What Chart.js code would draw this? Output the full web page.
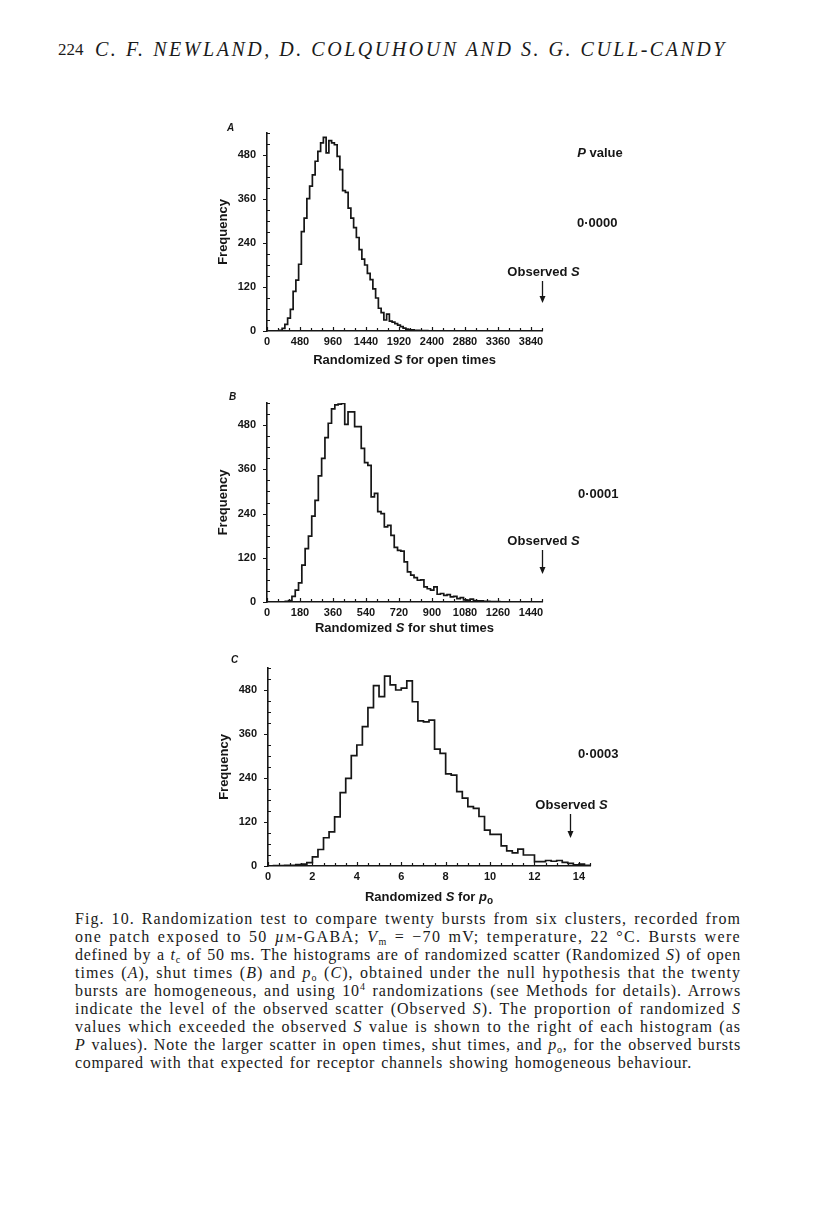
<!DOCTYPE html>
<html>
<head>
<meta charset="utf-8">
<title>Fig. 10 randomization histograms</title>
<script src="https://cdn.jsdelivr.net/npm/chart.js@4.4.0/dist/chart.umd.min.js"></script>
<style>
  body { margin: 0; width: 816px; height: 1206px; background: #fff; position: relative; overflow: hidden;
         font-family: "Liberation Serif", serif; color: #1a1a1a; }
  canvas { position: absolute; }
  .txt { position: absolute; white-space: nowrap; line-height: 18px; }
  .cap { font-size: 16px; }
  sub { font-size: 10px; vertical-align: -3px; line-height: 0; }
  sup { font-size: 10px; vertical-align: 6px; line-height: 0; }
  .sc { font-size: 11.5px; }
</style>
</head>
<body>

<div class="txt" style="left:58px;top:41px;font-size:17px">224</div>
<span class="txt fit" data-w="632" data-share="1" style="left:95px;top:40px;font-size:20px;font-style:italic">C. F. NEWLAND, D. COLQUHOUN AND S. G. CULL-CANDY</span>

<canvas id="panelA" width="440" height="262" style="left:200px;top:112px"></canvas>
<canvas id="panelB" width="440" height="263" style="left:200px;top:382px"></canvas>
<canvas id="panelC" width="450" height="261" style="left:200px;top:648px"></canvas>

<span class="txt cap fit" data-w="666" data-share="0.8" style="left:75px;top:910px">Fig. 10. Randomization test to compare twenty bursts from six clusters, recorded from</span>
<span class="txt cap fit" data-w="666" data-share="0.8" style="left:75px;top:928px">one patch exposed to 50 <i>µ</i><span class="sc">M</span>-GABA; <i>V</i><sub>m</sub> = −70 mV; temperature, 22 °C. Bursts were</span>
<span class="txt cap fit" data-w="666" data-share="0.8" style="left:75px;top:946px">defined by a <i>t</i><sub>c</sub> of 50 ms. The histograms are of randomized scatter (Randomized <i>S</i>) of open</span>
<span class="txt cap fit" data-w="666" data-share="0.8" style="left:75px;top:964px">times (<i>A</i>), shut times (<i>B</i>) and <i>p</i><sub>o</sub> (<i>C</i>), obtained under the null hypothesis that the twenty</span>
<span class="txt cap fit" data-w="666" data-share="0.8" style="left:75px;top:982px">bursts are homogeneous, and using 10<sup>4</sup> randomizations (see Methods for details). Arrows</span>
<span class="txt cap fit" data-w="666" data-share="0.8" style="left:75px;top:1000px">indicate the level of the observed scatter (Observed <i>S</i>). The proportion of randomized <i>S</i></span>
<span class="txt cap fit" data-w="666" data-share="0.8" style="left:75px;top:1018px">values which exceeded the observed <i>S</i> value is shown to the right of each histogram (as</span>
<span class="txt cap fit" data-w="666" data-share="0.8" style="left:75px;top:1036px"><i>P</i> values). Note the larger scatter in open times, shut times, and <i>p</i><sub>o</sub>, for the observed bursts</span>
<span class="txt cap fit" data-w="617" data-share="0.8" style="left:75px;top:1054px">compared with that expected for receptor channels showing homogeneous behaviour.</span>

<script>
// ---------------- data ----------------
// A: randomized S for open times (bins of 40)
var openBinStart = 180;
var openBinWidth = 40;
var openCounts = [2, 7, 18, 35, 59, 108, 139, 182, 271, 308, 361, 395, 426, 463, 490, 513, 528, 486, 519, 513,
  508, 476, 440, 383, 378, 335, 308, 282, 255, 222, 196, 180, 157, 140, 115, 90, 62, 50, 30, 46,
  27, 24, 20, 16, 12, 8, 5, 3, 3, 2, 2, 1, 1, 1];

// B: randomized S for shut times (bins of 18)
var shutBinStart = 100;
var shutBinWidth = 18;
var shutCounts = [2, 4, 15, 32, 52, 100, 145, 179, 233, 276, 342, 390, 446, 485, 524, 535, 537, 539, 482, 516,
  516, 476, 476, 417, 378, 371, 285, 295, 245, 240, 204, 208, 181, 148, 140, 138, 109, 82, 73, 66,
  59, 60, 41, 36, 32, 41, 21, 23, 18, 20, 14, 15, 9, 12, 6, 5, 8, 4, 3, 3, 2, 2, 1, 1, 1];

// C: randomized S for p_o (bins of 0.25)
var poBinStart = 0;
var poBinWidth = 0.25;
var poCounts = [0, 1, 1, 2, 2, 4, 5, 9, 25, 45, 77, 93, 134, 200, 239, 301, 330, 380, 432, 492,
  462, 518, 494, 480, 485, 505, 448, 396, 393, 398, 319, 307, 251, 248, 203, 185, 162, 157, 135, 98,
  86, 86, 55, 41, 36, 46, 30, 30, 12, 12, 15, 13, 15, 10, 7, 3, 5, 2];

var xMaxes = [4000, 1500, 14.5];
var xSteps = [160, 60, 0.5];
var xLabelEvery = [480, 180, 2];
var yMax = 540;
var yStep = 30;
var yLabelEvery = 120;
var observedS = [4000, 1500, 13.6];
var pValues = ["0\u00b70000", "0\u00b70001", "0\u00b70003"];
var panelLetters = ["A", "B", "C"];

var INK = "#161616";
var SANS = '"Liberation Sans", Arial, sans-serif';

// histogram outline: one point per bin right edge, drawn with stepped:'after'
function histPoints(start, width, counts) {
  var pts = [{ x: start, y: 0 }];
  for (var i = 0; i < counts.length; i++) {
    pts.push({ x: start + (i + 1) * width, y: counts[i] });
  }
  pts.push({ x: start + counts.length * width, y: 0 });
  return pts;
}

function isMultiple(v, step) {
  var q = v / step;
  return Math.abs(q - Math.round(q)) < 1e-6;
}

// layout / annotation settings for each canvas
var panels = {
  panelA: { idx: 0, padLeft: 16, padTop: 21, padRight: 98, xHeight: 43, titleDrop: 33,
    letterPos: [27, 19], pHead: [377, 45], pPos: [377, 115], obsUp: 55,
    title: [["Randomized ", ""], ["S", "italic "], [" for open times", ""]] },
  panelB: { idx: 1, padLeft: 16, padTop: 21, padRight: 98, xHeight: 43, titleDrop: 30,
    letterPos: [29, 18], pHead: null, pPos: [378, 116], obsUp: 57,
    title: [["Randomized ", ""], ["S", "italic "], [" for shut times", ""]] },
  panelC: { idx: 2, padLeft: 17, padTop: 20, padRight: 60, xHeight: 43, titleDrop: 35,
    letterPos: [31, 15], pHead: null, pPos: [378, 110], obsUp: 57,
    title: [["Randomized ", ""], ["S", "italic "], [" for ", ""], ["p", "italic "], ["o", "sub"]] }
};

function drawParts(ctx, parts, cx, y, size) {
  var total = 0, i, f;
  var fonts = [];
  for (i = 0; i < parts.length; i++) {
    f = parts[i][1] === "sub" ? "bold " + (size - 3) + "px " + SANS : parts[i][1] + "bold " + size + "px " + SANS;
    fonts.push(f);
    ctx.font = f;
    total += ctx.measureText(parts[i][0]).width;
  }
  var x = cx - total / 2;
  ctx.textAlign = "left";
  ctx.textBaseline = "alphabetic";
  for (i = 0; i < parts.length; i++) {
    ctx.font = fonts[i];
    ctx.fillText(parts[i][0], x, parts[i][1] === "sub" ? y + 3 : y);
    x += ctx.measureText(parts[i][0]).width;
  }
}

var marksPlugin = {
  id: "marks",
  afterDraw: function (chart) {
    var cfg = panels[chart.canvas.id];
    var ctx = chart.ctx;
    var area = chart.chartArea;
    var xs = chart.scales.x;
    var ys = chart.scales.y;
    ctx.save();
    ctx.strokeStyle = INK;
    ctx.fillStyle = INK;
    ctx.lineWidth = 1.2;

    // tick marks: x inward, y labelled outward / minor inward
    ctx.beginPath();
    xs.ticks.forEach(function (t) {
      var px = Math.round(xs.getPixelForValue(t.value)) + 0.5;
      ctx.moveTo(px, area.bottom);
      ctx.lineTo(px, area.bottom - (t.label !== "" ? 4 : 3));
    });
    ys.ticks.forEach(function (t) {
      var py = Math.round(ys.getPixelForValue(t.value)) + 0.5;
      ctx.moveTo(area.left, py);
      ctx.lineTo(t.label !== "" ? area.left - 4 : area.left + 3, py);
    });
    ctx.stroke();

    // x axis title
    drawParts(ctx, cfg.title, (area.left + area.right) / 2, area.bottom + cfg.titleDrop, 13);

    // panel letter
    ctx.font = "italic bold 10px " + SANS;
    ctx.textAlign = "left";
    ctx.textBaseline = "alphabetic";
    ctx.fillText(panelLetters[cfg.idx], cfg.letterPos[0], cfg.letterPos[1]);

    // P value column
    if (cfg.pHead) {
      drawParts(ctx, [["P", "italic "], [" value", ""]], cfg.pHead[0] + 23, cfg.pHead[1], 13);
    }
    ctx.font = "bold 13px " + SANS;
    ctx.textAlign = "left";
    ctx.fillText(pValues[cfg.idx], cfg.pPos[0], cfg.pPos[1]);

    // observed S arrow
    var ax = Math.round(xs.getPixelForValue(observedS[cfg.idx])) + 0.5;
    drawParts(ctx, [["Observed ", ""], ["S", "italic "]], ax + 1, area.bottom - cfg.obsUp, 13);
    ctx.lineWidth = 1.3;
    ctx.beginPath();
    ctx.moveTo(ax, area.bottom - cfg.obsUp + 5);
    ctx.lineTo(ax, area.bottom - 33);
    ctx.stroke();
    ctx.beginPath();
    ctx.moveTo(ax - 3, area.bottom - 35);
    ctx.lineTo(ax + 3, area.bottom - 35);
    ctx.lineTo(ax, area.bottom - 28);
    ctx.closePath();
    ctx.fill();
    ctx.restore();
  }
};

function makePanel(id, points) {
  var cfg = panels[id];
  var i = cfg.idx;
  var tickFont = { family: SANS, size: 11, weight: "bold" };
  return new Chart(document.getElementById(id).getContext("2d"), {
    type: "line",
    data: {
      datasets: [{
        data: points,
        stepped: "after",
        borderColor: INK,
        borderWidth: 1.7,
        pointRadius: 0,
        fill: false
      }]
    },
    options: {
      responsive: false,
      animation: false,
      events: [],
      layout: { padding: { left: cfg.padLeft, top: cfg.padTop, right: cfg.padRight, bottom: 0 } },
      plugins: { legend: { display: false }, tooltip: { enabled: false } },
      scales: {
        x: {
          type: "linear",
          min: 0,
          max: xMaxes[i],
          grid: { display: false, drawTicks: false },
          border: { display: true, color: INK, width: 1.6 },
          ticks: {
            stepSize: xSteps[i],
            autoSkip: false,
            maxRotation: 0,
            padding: 4,
            color: INK,
            font: tickFont,
            callback: function (v) { return isMultiple(v, xLabelEvery[i]) ? String(Math.round(v)) : ""; }
          },
          afterFit: function (s) { s.height = cfg.xHeight; }
        },
        y: {
          min: 0,
          max: yMax,
          grid: { display: false, drawTicks: false },
          border: { display: true, color: INK, width: 1.6 },
          ticks: {
            stepSize: yStep,
            autoSkip: false,
            padding: 11,
            color: INK,
            font: tickFont,
            callback: function (v) { return isMultiple(v, yLabelEvery) ? String(v) : ""; }
          },
          title: { display: true, text: "Frequency", color: INK, padding: 0,
                   font: { family: SANS, size: 13, weight: "bold" } },
          afterFit: function (s) { s.width = 51; }
        }
      }
    },
    plugins: [marksPlugin]
  });
}

makePanel("panelA", histPoints(openBinStart, openBinWidth, openCounts));
makePanel("panelB", histPoints(shutBinStart, shutBinWidth, shutCounts));
makePanel("panelC", histPoints(poBinStart, poBinWidth, poCounts));

// stretch the running head and caption lines to their printed widths
var fits = document.querySelectorAll(".fit");
for (var k = 0; k < fits.length; k++) {
  var el = fits[k];
  var target = parseFloat(el.getAttribute("data-w"));
  var share = parseFloat(el.getAttribute("data-share"));
  var text = el.textContent;
  var w = el.getBoundingClientRect().width;
  el.style.letterSpacing = ((target - w) * share / text.length) + "px";
  w = el.getBoundingClientRect().width;
  var spaces = (text.match(/ /g) || []).length;
  if (spaces) el.style.wordSpacing = ((target - w) / spaces) + "px";
}
</script>
</body>
</html>
